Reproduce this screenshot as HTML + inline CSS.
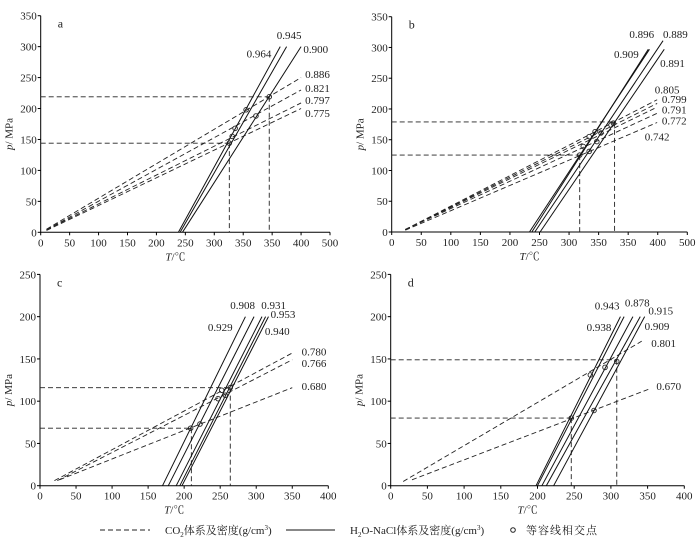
<!DOCTYPE html>
<html><head><meta charset="utf-8"><style>
html,body{margin:0;padding:0;background:#fff;}
svg{display:block;font-family:"Liberation Serif","Noto Serif CJK SC",serif;}
</style></head><body>
<svg id="chart" width="700" height="543" viewBox="0 0 700 543" xmlns="http://www.w3.org/2000/svg"></svg>
<script>
// ---- Panel a ----
const aXTicks=["0","50","100","150","200","250","300","350","350","400","500"];
const aYTicks=["0","50","100","150","200","250","300","350"];
const aCo2Names=["0.886","0.821","0.797","0.775"];
const aCo2Start=[[10,5],[10,4],[10,4],[10,3]];
const aCo2End=[[450,250],[450,230],[450,209],[450,200]];
const aH2oNames=["0.964","0.945","0.900"];
const aH2oStart=[[238,0],[241,0],[245,0]];
const aH2oEnd=[[414,300],[425,300],[450,300]];
const aPoints=[[326,144],[331,155],[336,168],[355,198],[372,188],[395,219]];
const aRefP=[219,144];
const aRefT=[326,395];
const aLabels=[["0.945",408,319],["0.964",356,289],["0.900",454,296],["0.886",457,256],["0.821",457,233],["0.797",457,214],["0.775",457,193]];
// ---- Panel b ----
const bXTicks=["0","50","100","150","200","250","300","350","350","400","500"];
const bYTicks=["0","50","100","150","200","250","300","350"];
const bCo2Names=["0.805","0.799","0.791","0.772","0.742"];
const bCo2Start=[[23,4],[23,4],[23,4],[23,4],[23,3]];
const bCo2End=[[449,215],[449,209],[449,203],[449,193],[449,178]];
const bH2oNames=["0.896","0.909","0.889","0.891"];
const bH2oStart=[[233,0],[237,0],[242,0],[251,0]];
const bH2oEnd=[[436,297],[434,297],[459,311],[461,297]];
const bPoints=[[318,125],[324,139],[334,155],[344,163],[354,161],[375,177],[371,174],[347,147],[334,131]];
const bRefP=[179,125];
const bRefT=[318,377];
const bLabels=[["0.896",402,322],["0.909",376,289],["0.889",459,322],["0.891",454,275],["0.805",445,232],["0.799",457,216],["0.791",457,199],["0.772",457,181],["0.742",428,155]];
// ---- Panel c ----
const cXTicks=["0","50","100","150","200","250","300","350","400"];
const cYTicks=["0","50","100","150","200","250"];
const cCo2Names=["0.780","0.766","0.680"];
const cCo2Start=[[20,6],[24,6],[27,7]];
const cCo2End=[[350,157],[350,149],[350,116]];
const cH2oNames=["0.929","0.908","0.931","0.953","0.940"];
const cH2oStart=[[170,0],[178,0],[189,0],[194,0],[197,0]];
const cH2oEnd=[[285,200],[297,200],[308,200],[313,200],[317,200]];
const cPoints=[[209,68],[222,73],[247,103],[252,113],[257,107],[264,116]];
const cRefP=[116,68];
const cRefT=[210,264];
const cLabels=[["0.908",264,214],["0.931",307,214],["0.953",320,203],["0.929",233,188],["0.940",312,183],["0.780",363,159],["0.766",363,145],["0.680",363,118]];
// ---- Panel d ----
const dXTicks=["0","50","100","150","200","250","300","350","400"];
const dYTicks=["0","50","100","150","200","250"];
const dCo2Names=["0.801","0.670"];
const dCo2Start=[[17,5],[29,7]];
const dCo2End=[[342,171],[351,114]];
const dH2oNames=["0.938","0.943","0.878","0.915","0.909"];
const dH2oStart=[[198,0],[200,0],[206,0],[212,0],[222,0]];
const dH2oEnd=[[313,200],[318,200],[330,200],[340,200],[346,200]];
const dPoints=[[246,80],[272,131],[292,140],[308,147],[277,89]];
const dRefP=[149,80];
const dRefT=[246,308];
const dLabels=[["0.943",278,213],["0.878",319,217],["0.915",351,207],["0.938",267,188],["0.909",346,189],["0.801",355,169],["0.670",362,118]];

const NS="http://www.w3.org/2000/svg";
const svg=document.getElementById('chart');
function mk(tag,attrs,parent){const e=document.createElementNS(NS,tag);for(const k in attrs)e.setAttribute(k,attrs[k]);(parent||svg).appendChild(e);return e;}

const panels=[
 {id:'a',x0:40.7,x1:330,xMax:500,y0:232.3,y1:15.7,yMax:350,xt:aXTicks,yt:aYTicks,cn:aCo2Names,cs:aCo2Start,ce:aCo2End,hn:aH2oNames,hs:aH2oStart,he:aH2oEnd,pts:aPoints,rp:aRefP,rt:aRefT,lb:aLabels},
 {id:'b',x0:391.7,x1:687.3,xMax:500,y0:232,y1:16.7,yMax:350,xt:bXTicks,yt:bYTicks,cn:bCo2Names,cs:bCo2Start,ce:bCo2End,hn:bH2oNames,hs:bH2oStart,he:bH2oEnd,pts:bPoints,rp:bRefP,rt:bRefT,lb:bLabels},
 {id:'c',x0:40,x1:328.3,xMax:400,y0:485.7,y1:274.4,yMax:250,xt:cXTicks,yt:cYTicks,cn:cCo2Names,cs:cCo2Start,ce:cCo2End,hn:cH2oNames,hs:cH2oStart,he:cH2oEnd,pts:cPoints,rp:cRefP,rt:cRefT,lb:cLabels},
 {id:'d',x0:390.7,x1:684.3,xMax:400,y0:485.7,y1:274.4,yMax:250,xt:dXTicks,yt:dYTicks,cn:dCo2Names,cs:dCo2Start,ce:dCo2End,hn:dH2oNames,hs:dH2oStart,he:dH2oEnd,pts:dPoints,rp:dRefP,rt:dRefT,lb:dLabels}
];

panels.forEach(P=>{
 const g=mk('g',{});
 
 
 const X=t=>P.x0+(P.x1-P.x0)*t/P.xMax;
 const Y=p=>P.y0-(P.y0-P.y1)*p/P.yMax;
 // axes
 const ax=mk('path',{d:`M${P.x0},${P.y1} V${P.y0} H${P.x1}`,fill:'none',stroke:'#000','stroke-width':1},g);
 
 
 const nx=P.xt.length-1;
 P.xt.forEach((lab,i)=>{
  const px=P.x0+(P.x1-P.x0)*i/nx;
  mk('line',{x1:px,x2:px,y1:P.y0,y2:P.y0+3,stroke:'#000'},g);
  const t=mk('text',{x:px,y:P.y0+14,'font-size':11,'text-anchor':'middle',fill:'#222'},g);
  t.textContent=lab;
  
  
 });
 const ny=P.yt.length-1;
 P.yt.forEach((lab,i)=>{
  const py=P.y0-(P.y0-P.y1)*i/ny;
  mk('line',{x1:P.x0-3,x2:P.x0,y1:py,y2:py,stroke:'#000'},g);
  const t=mk('text',{x:P.x0-4,y:py+4,'font-size':11,'text-anchor':'end',fill:'#222'},g);
  t.textContent=lab;
  
  
 });
 const xt=mk('text',{x:(P.x0+P.x1)/2-20,y:P.y0+28,'font-size':11,fill:'#222'},g);
 xt.innerHTML='<tspan font-style="italic">T</tspan>/℃';
 
 
 const yc=(P.y0+P.y1)/2+10;
 const yt=mk('text',{x:P.x0-28,y:yc,'font-size':11,fill:'#222',transform:`rotate(-90 ${P.x0-28} ${yc})`,'text-anchor':'middle'},g);
 yt.innerHTML='<tspan font-style="italic">p</tspan>/ MPa';
 
 
 const pl=mk('text',{x:P.x0+17,y:P.y1+12,'font-size':12,fill:'#222'},g);
 pl.textContent=P.id;
 
 
 // reference lines
 P.rp.forEach(p=>{
  const tCross=P.rt[P.rp.indexOf(p)===0?P.rt.length-1:0];
  const l=mk('line',{x1:P.x0,x2:X(Math.max(...P.rt)),y1:Y(p),y2:Y(p),stroke:'#222','stroke-dasharray':'5,3','stroke-width':0.9},g);
  if(p===Math.min(...P.rp)) l.setAttribute('x2',X(Math.min(...P.rt)));
  
  
 });
 P.rt.forEach((t,i)=>{
  const pTop=(t===Math.max(...P.rt))?Math.max(...P.rp):Math.min(...P.rp);
  const l=mk('line',{x1:X(t),x2:X(t),y1:Y(pTop),y2:P.y0,stroke:'#222','stroke-dasharray':'5,3','stroke-width':0.9},g);
  
  
 });
 // CO2 isochores
 P.cn.forEach((n,i)=>{
  const l=mk('line',{x1:X(P.cs[i][0]),y1:Y(P.cs[i][1]),x2:X(P.ce[i][0]),y2:Y(P.ce[i][1]),stroke:'#222','stroke-dasharray':'5,3','stroke-width':0.9},g);
  
  
 });
 // H2O-NaCl isochores
 P.hn.forEach((n,i)=>{
  const l=mk('line',{x1:X(P.hs[i][0]),y1:Y(P.hs[i][1]),x2:X(P.he[i][0]),y2:Y(P.he[i][1]),stroke:'#111','stroke-width':1},g);
  
  
 });
 // intersection points
 P.pts.forEach(pt=>{
  const c=mk('circle',{cx:X(pt[0]),cy:Y(pt[1]),r:2.3,fill:'none',stroke:'#222','stroke-width':0.9},g);
  
  
 });
 // labels
 P.lb.forEach(L=>{
  const t=mk('text',{x:X(L[1]),y:Y(L[2])+4,'font-size':11,fill:'#222'},g);
  t.textContent=L[0];
  
  
 });
});

// legend
const lg=mk('g',{});


const l1=mk('line',{x1:100,x2:150,y1:530,y2:530,stroke:'#222','stroke-dasharray':'5,3'},lg);


const t1=mk('text',{x:165,y:534,'font-size':11,fill:'#222'},lg);
t1.innerHTML='CO<tspan font-size="7" dy="3">2</tspan><tspan dy="-3">体系及密度(g/cm</tspan><tspan font-size="7" dy="-4">3</tspan><tspan dy="4">)</tspan>';


const l2=mk('line',{x1:286,x2:335,y1:530,y2:530,stroke:'#111'},lg);


const t2=mk('text',{x:350,y:534,'font-size':11,fill:'#222'},lg);
t2.innerHTML='H<tspan font-size="7" dy="3">2</tspan><tspan dy="-3">O-NaCl体系及密度(g/cm</tspan><tspan font-size="7" dy="-4">3</tspan><tspan dy="4">)</tspan>';


const c3=mk('circle',{cx:513,cy:530,r:2.3,fill:'none',stroke:'#222'},lg);


const t3=mk('text',{x:526,y:534,'font-size':11,fill:'#222','letter-spacing':'1'},lg);
t3.textContent='等容线相交点';


</script>
</body></html>
